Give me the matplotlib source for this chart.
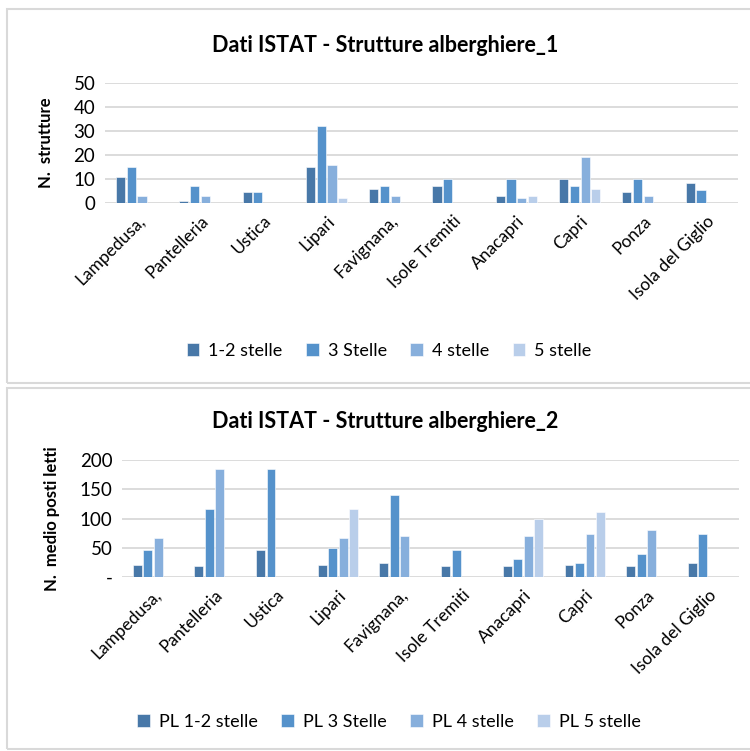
import numpy as np
import matplotlib.pyplot as plt
from matplotlib.patches import Rectangle
from matplotlib.ticker import FuncFormatter

plt.rcParams['font.family'] = ['Lato', 'DejaVu Sans']

# island names
isole = ['Lampedusa,', 'Pantelleria', 'Ustica', 'Lipari', 'Favignana,',
         'Isole Tremiti', 'Anacapri', 'Capri', 'Ponza', 'Isola del Giglio']

# chart 1 - number of hotels
s12 = [11, 1, 4.5, 15, 6, 7, 3, 10, 4.5, 8.5]
s3 = [15, 7, 4.5, 32, 7, 10, 10, 7, 10, 5.5]
s4 = [3, 3, 0, 16, 3, 0, 2, 19, 3, 0]
s5 = [0, 0, 0, 2, 0, 0, 3, 6, 0, 0]

# chart 2 - average beds
pl12 = [21, 18, 46, 21, 24, 18, 18, 21, 18, 24]
pl3 = [46, 117, 184, 49, 141, 46, 31, 24, 39, 74]
pl4 = [67, 184, 0, 67, 70, 0, 70, 74, 80, 0]
pl5 = [0, 0, 0, 117, 0, 0, 99, 111, 0, 0]

colors = ['#4878A8', '#5592CB', '#87AFDC', '#B9CEEA']

fig = plt.figure(figsize=(7.5, 7.51), dpi=100)
W, H = 750, 751

# chart frames
for y0, y1 in [(9, 383), (388, 749)]:
    fig.patches.append(Rectangle((7 / W, 1 - y1 / H), 800 / W, (y1 - y0) / H,
                                 transform=fig.transFigure, fill=False,
                                 edgecolor='#d9d9d9', linewidth=1.5))


def draw(ax, series, labels, ymax, step, title, title_y, ylabel, fmt, leg_y):
    x = np.arange(len(isole))
    w = 0.145
    sp = 0.17
    for i, (vals, lab) in enumerate(zip(series, labels)):
        ax.bar(x + (i - 1.5) * sp, vals, width=w, color=colors[i],
               edgecolor='white', linewidth=0.4, label=lab, zorder=3)
    ax.set_xlim(-0.5, len(isole) - 0.5)
    ax.set_ylim(0, ymax)
    ax.set_yticks(np.arange(0, ymax + 1, step))
    ax.yaxis.set_major_formatter(FuncFormatter(fmt))
    ax.grid(axis='y', color='#d9d9d9', linewidth=1.3, zorder=0)
    ax.set_axisbelow(True)
    for s in ax.spines.values():
        s.set_visible(False)
    ax.tick_params(length=0, labelsize=13.5, pad=7)
    ax.set_xticks(x)
    ax.set_xticklabels(isole, rotation=45, ha='right', rotation_mode='anchor',
                       fontsize=12.5)
    fig.text(385 / W, 1 - title_y / H, title, fontsize=15.5, fontweight='bold',
             ha='center', va='center')
    ax.set_ylabel(ylabel, fontsize=12, fontweight='bold', labelpad=14)
    ax.legend(loc='center', bbox_to_anchor=(389 / W, leg_y), ncol=4,
              frameon=False, fontsize=13, handlelength=0.7, handleheight=0.7,
              columnspacing=1.3, handletextpad=0.5,
              bbox_transform=fig.transFigure)


ax1 = fig.add_axes([105 / W, 1 - 203 / H, 633 / W, 120 / H])
draw(ax1, [s12, s3, s4, s5], ['1-2 stelle', '3 Stelle', '4 stelle', '5 stelle'],
     50, 10, 'Dati ISTAT - Strutture alberghiere_1', 45, 'N.  strutture',
     lambda v, p: f'{v:.0f}', 1 - 351 / H)

ax2 = fig.add_axes([122 / W, 1 - 577 / H, 617 / W, 117 / H])
draw(ax2, [pl12, pl3, pl4, pl5],
     ['PL 1-2 stelle', 'PL 3 Stelle', 'PL 4 stelle', 'PL 5 stelle'],
     200, 50, 'Dati ISTAT - Strutture alberghiere_2', 421,
     'N.  medio posti letti',
     lambda v, p: '-' if v == 0 else f'{v:.0f}', 1 - 722 / H)

fig.savefig('out.png', dpi=100)
